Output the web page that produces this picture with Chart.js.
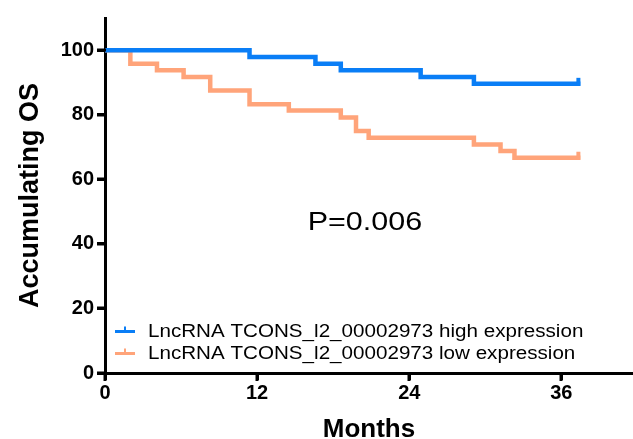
<!DOCTYPE html>
<html>
<head>
<meta charset="utf-8">
<script src="https://cdn.jsdelivr.net/npm/chart.js@4/dist/chart.umd.min.js"></script>
<style>
html,body{margin:0;padding:0;background:#fff;}
#wrap{width:633px;height:439px;position:relative;}
</style>
</head>
<body>
<div id="wrap"><canvas id="c" width="633" height="439"></canvas></div>
<script>
const seriesNames = ['LncRNA TCONS_l2_00002973 high expression', 'LncRNA TCONS_l2_00002973 low expression'];
const highMonths = [0, 11.4, 16.6, 18.6, 24.9, 29.1, 37.5];
const highOS     = [100, 97.9, 95.8, 93.8, 91.7, 89.6, 89.6];
const lowMonths  = [0, 2.0, 4.1, 6.2, 8.3, 11.4, 14.5, 18.6, 19.8, 20.8, 29.1, 31.2, 32.3, 37.5];
const lowOS      = [100, 95.8, 93.8, 91.7, 87.5, 83.3, 81.3, 79.2, 75.0, 72.9, 70.8, 68.8, 66.7, 66.7];
const xTicks = [0, 12, 24, 36];
const yTicks = [0, 20, 40, 60, 80, 100];
const pValueText = 'P=0.006';

const colors = ['#0a7ef6', '#ffa47a'];
const FONT = '"Liberation Sans", Arial, sans-serif';
const toPts = (xs, ys) => xs.map((x, i) => ({x: x, y: ys[i]}));

const extrasPlugin = {
  id: 'extras',
  afterDraw(chart) {
    const ctx = chart.ctx;
    const xs = chart.scales.x, ys = chart.scales.y;
    const a = chart.chartArea;
    ctx.save();
    ctx.strokeStyle = '#000'; ctx.lineWidth = 3; ctx.lineCap = 'butt';
    xTicks.forEach(v => {
      const px = Math.round(xs.getPixelForValue(v));
      ctx.beginPath(); ctx.moveTo(px, a.bottom - 1); ctx.lineTo(px, a.bottom + 8); ctx.stroke();
    });
    yTicks.forEach(v => {
      const py = Math.round(ys.getPixelForValue(v));
      ctx.beginPath(); ctx.moveTo(a.left + 1, py); ctx.lineTo(a.left - 8, py); ctx.stroke();
    });
    ctx.restore();
  },
  afterDatasetsDraw(chart) {
    const ctx = chart.ctx;
    const xs = chart.scales.x, ys = chart.scales.y;
    chart.data.datasets.forEach((ds) => {
      const last = ds.data[ds.data.length - 1];
      const px = xs.getPixelForValue(last.x), py = ys.getPixelForValue(last.y);
      ctx.save();
      ctx.strokeStyle = ds.borderColor; ctx.lineWidth = 4; ctx.lineCap = 'butt';
      ctx.beginPath(); ctx.moveTo(px - 2, py + 2); ctx.lineTo(px - 2, py - 6); ctx.stroke();
      ctx.restore();
    });
    ctx.save();
    ctx.fillStyle = '#000';
    ctx.font = '25px ' + FONT;
    ctx.textAlign = 'center'; ctx.textBaseline = 'middle';
    const cx = xs.getPixelForValue(20.5), cy = ys.getPixelForValue(46.7);
    ctx.translate(cx, cy); ctx.scale(1.22, 1);
    ctx.fillText(pValueText, 0, 1);
    ctx.restore();
    ctx.save();
    ctx.textBaseline = 'middle'; ctx.textAlign = 'left';
    const rows = [331.5, 353.5];
    chart.data.datasets.forEach((ds, i) => {
      const y = rows[i];
      ctx.strokeStyle = ds.borderColor; ctx.lineWidth = 3;
      ctx.beginPath(); ctx.moveTo(115, y); ctx.lineTo(135, y); ctx.stroke();
      ctx.lineWidth = 2;
      ctx.beginPath(); ctx.moveTo(125, y); ctx.lineTo(125, y - 5); ctx.stroke();
      ctx.save();
      ctx.fillStyle = '#000';
      ctx.font = '18px ' + FONT;
      ctx.translate(148, y + 1); ctx.scale(1.145, 1);
      ctx.fillText(ds.label, 0, 0);
      ctx.restore();
    });
    ctx.restore();
  }
};

new Chart(document.getElementById('c'), {
  type: 'line',
  data: {
    datasets: [
      {label: seriesNames[0], data: toPts(highMonths, highOS), borderColor: colors[0], backgroundColor: colors[0], borderWidth: 4.5, stepped: true, pointRadius: 0, fill: false},
      {label: seriesNames[1], data: toPts(lowMonths, lowOS), borderColor: colors[1], backgroundColor: colors[1], borderWidth: 4.5, stepped: true, pointRadius: 0, fill: false}
    ]
  },
  options: {
    responsive: false,
    animation: false,
    layout: {padding: {top: 18, right: 0, bottom: 0, left: 0}},
    plugins: {legend: {display: false}, tooltip: {enabled: false}},
    scales: {
      x: {
        type: 'linear', min: 0, max: 41.65,
        afterBuildTicks: (s) => { s.ticks = xTicks.map(v => ({value: v})); },
        afterFit: (s) => { s.height = 66; },
        grid: {display: true, drawOnChartArea: false, drawTicks: true, tickLength: 7, color: '#000', lineWidth: 3},
        border: {display: true, color: '#000', width: 3},
        ticks: {color: '#000', font: {family: FONT, size: 20, weight: 'bold'}, padding: 1, maxRotation: 0},
        title: {display: true, text: 'Months', color: '#000', font: {family: FONT, size: 26, weight: 'bold'}, padding: {top: 0, bottom: -6}}
      },
      y: {
        type: 'linear', min: 0, max: 110,
        afterBuildTicks: (s) => { s.ticks = yTicks.map(v => ({value: v})); },
        afterFit: (s) => { s.width = 105; },
        grid: {display: true, drawOnChartArea: false, drawTicks: true, tickLength: 8, color: '#000', lineWidth: 3},
        border: {display: true, color: '#000', width: 3},
        ticks: {color: '#000', font: {family: FONT, size: 20, weight: 'bold'}, padding: 3},
        title: {display: true, text: 'Accumulating OS', color: '#000', font: {family: FONT, size: 27, weight: 'bold'}, padding: {top: 14, bottom: 8}}
      }
    }
  },
  plugins: [extrasPlugin]
});
</script>
</body>
</html>
